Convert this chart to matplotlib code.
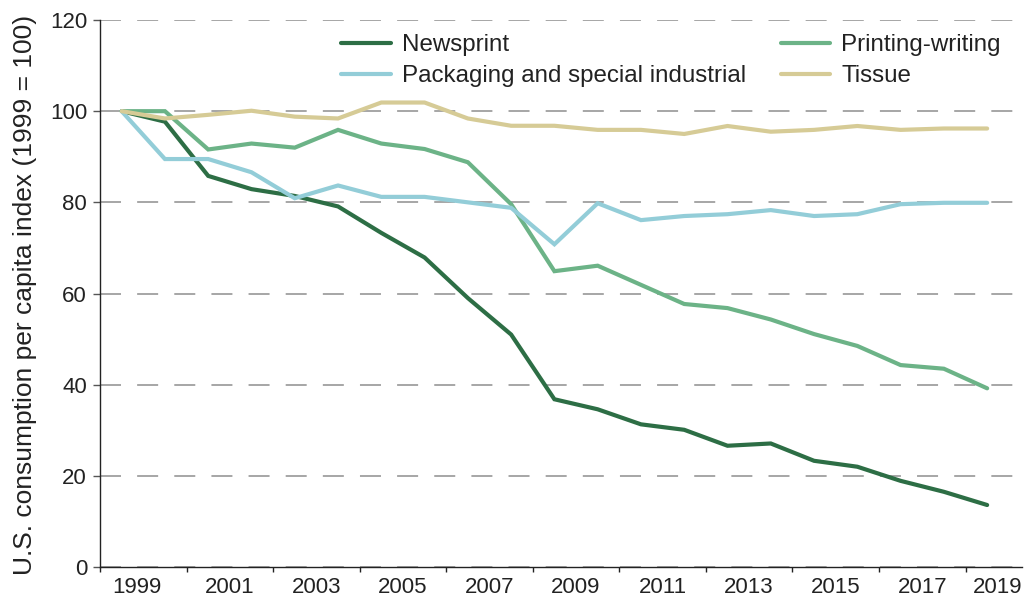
import matplotlib
matplotlib.use('Agg')
import matplotlib.pyplot as plt
from matplotlib.lines import Line2D


years = list(range(1999, 2020))

newsprint = [100, 97.7, 85.8, 82.9, 81.4, 79.1, 73.3, 67.9, 59.0, 51.0, 36.8,
			 34.6, 31.3, 30.1, 26.6, 27.1, 23.3, 22.0, 18.9, 16.5, 13.6]
printing_writing = [100, 100, 91.6, 92.9, 92.0, 95.9, 92.9, 91.7, 88.8, 79.6, 64.9,
					66.1, 61.9, 57.7, 56.8, 54.3, 51.1, 48.5, 44.3, 43.5, 39.2]
packaging = [100, 89.5, 89.5, 86.6, 80.9, 83.7, 81.2, 81.2, 80.0, 78.8, 70.8,
			 79.8, 76.1, 77.0, 77.4, 78.3, 77.0, 77.4, 79.6, 79.9, 79.9]
tissue = [100, 98.4, 99.2, 100.1, 98.8, 98.4, 101.9, 101.9, 98.4, 96.8, 96.8,
		  95.9, 95.9, 95.0, 96.75, 95.5, 95.9, 96.75, 95.9, 96.2, 96.2]

tick_labels = ['1999', '2001', '2003', '2005', '2007', '2009',
			   '2011', '2013', '2015', '2017', '2019']
y_ticks = [0, 20, 40, 60, 80, 100, 120]

colors = {
	'Newsprint':							'#2d6e45',
	'Printing-writing':						'#6cb387',
	'Packaging and special industrial':		'#93cdd8',
	'Tissue':								'#d6cb96',
}

text_color = '#222222'
plt.rcParams['font.family'] = ['Liberation Sans', 'DejaVu Sans']
plt.rcParams['text.color'] = text_color

fig = plt.figure(figsize=(10.27, 6.03), dpi=100)
ax = fig.add_axes([0.0974, 0.0597, 0.8975, 0.9071])

series = [
	('Newsprint', newsprint),
	('Printing-writing', printing_writing),
	('Packaging and special industrial', packaging),
	('Tissue', tissue),
]
for name, values in series:
	ax.plot(years, values, color=colors[name], lw=3, solid_capstyle='round',
			solid_joinstyle='miter', label=name, zorder=3)

ax.set_xlim(1998.5, 2019.8)
ax.set_ylim(0, 120)

# category-style axis: ticks between 2-year groups, labels centred in them
ax.set_xticks([y + 0.5 for y in range(1998, 2019, 2)])
ax.set_xticklabels([])
label_pos = [int(t) + 0.5 for t in tick_labels]
label_pos[0] = 1999.36
label_pos[-1] = 2019.24
ax.set_xticks(label_pos, minor=True)
ax.set_xticklabels(tick_labels, minor=True)
ax.tick_params(axis='x', which='major', length=3.6, width=1, color=text_color, direction='out')
ax.tick_params(axis='x', which='minor', length=0, pad=7, labelsize=16, labelcolor=text_color)

ax.set_yticks(y_ticks)
ax.tick_params(axis='y', length=4.8, width=1, color='#555555', pad=4.5,
			   labelsize=16, labelcolor=text_color)

ax.yaxis.grid(True, color='#a6a6a6', lw=1.4, linestyle=(0, (10.8, 8.3)), zorder=1)
ax.set_axisbelow(True)

for side in ['top', 'right']:
	ax.spines[side].set_visible(False)
for side in ['left', 'bottom']:
	ax.spines[side].set_color(text_color)
	ax.spines[side].set_linewidth(1)

ax.set_ylabel('U.S. consumption per capita index (1999 = 100)', fontsize=19, color=text_color)
ax.yaxis.set_label_coords(-0.068, 0.497)

handles = [Line2D([], [], color=colors[name], lw=3, solid_capstyle='round') for name, _ in series]
names = [name for name, _ in series]
order = [0, 2, 1, 3]
leg = fig.legend([handles[i] for i in order], [names[i] for i in order],
				 ncol=2, loc='upper left', bbox_to_anchor=(341 / 1027, 1 - 34 / 603),
				 frameon=False, fontsize=17.4, borderpad=0, borderaxespad=0,
				 handlelength=2.05, handletextpad=0.46, columnspacing=1.45, labelspacing=0.38)

fig.savefig('out.png', dpi=100)
